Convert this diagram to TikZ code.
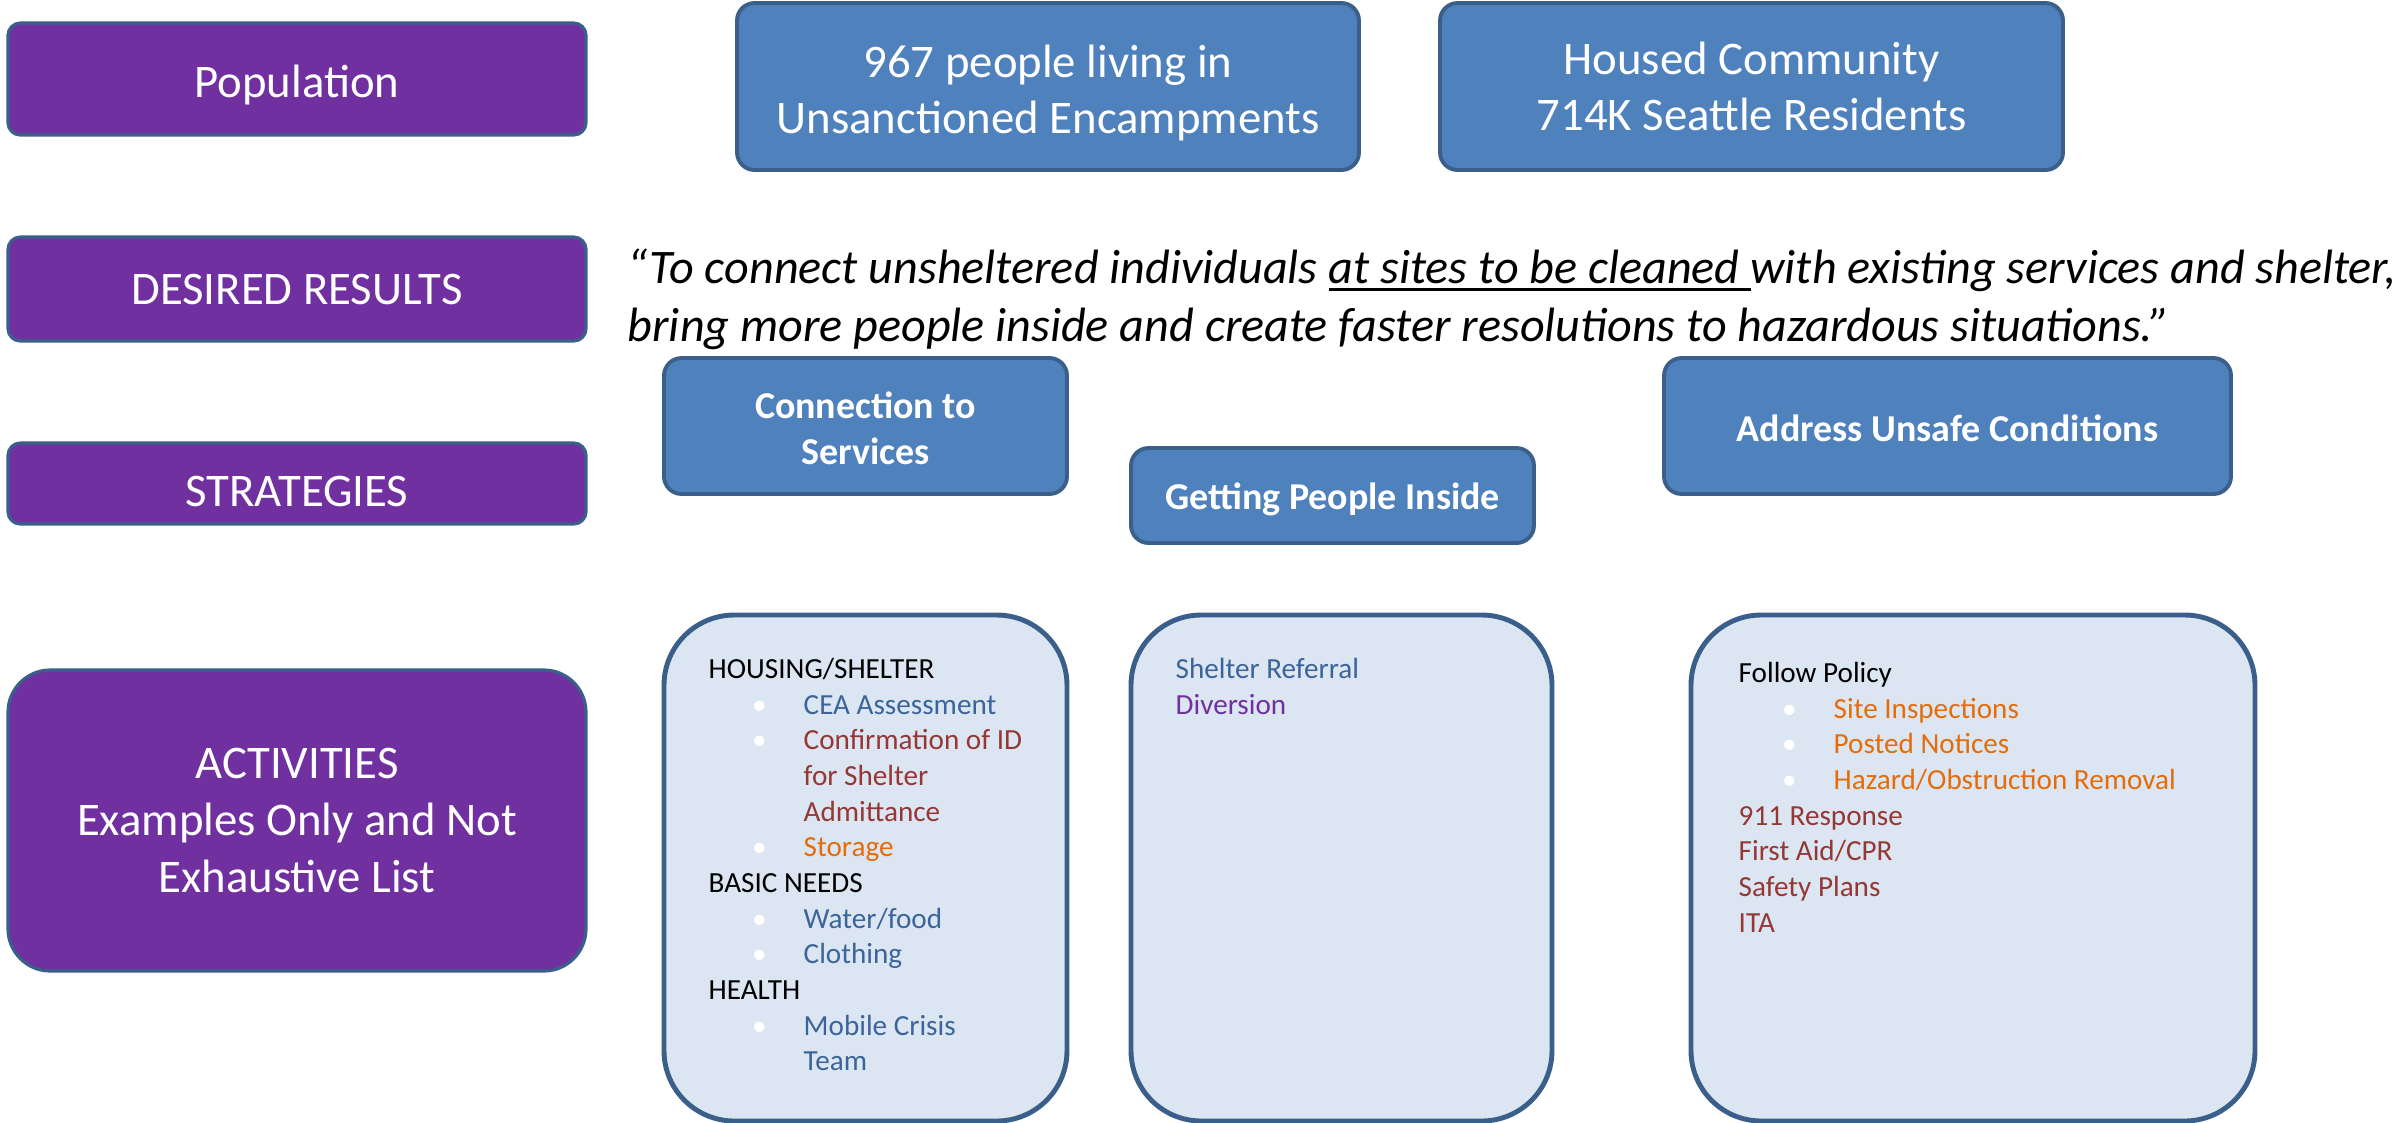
\documentclass[tikz,border=0pt]{standalone}
\usepackage{fontspec}
\setmainfont{Carlito}
\usepackage{tikz}
\definecolor{headpurple}{HTML}{7030A0}
\definecolor{boxblue}{HTML}{4F81BD}
\definecolor{edgeblue}{HTML}{3A5F8B}
\definecolor{listfill}{HTML}{DCE6F2}
\definecolor{itemblue}{HTML}{3B659A}
\definecolor{itemred}{HTML}{953735}
\definecolor{itemorange}{HTML}{E46C0A}
\newcommand{\ListItem}[3][0.95]{\hspace*{#1cm}\makebox[0pt][r]{\textcolor{white}{\textbullet}\hspace{0.37cm}}\textcolor{#2}{#3}}
\newcommand{\ListMore}[3][0.95]{\hspace*{#1cm}\textcolor{#2}{#3}}
\newcommand{\Lower}[2]{\raisebox{-#1}[\height][\depth]{\begin{tabular}{@{}c@{}}#2\end{tabular}}}
\newcommand{\ThickUnder}[1]{\setbox0\hbox{#1}\rlap{\rule[-2.3pt]{\wd0}{0.9pt}}\box0}
\tikzset{
    rowlabel/.style = {draw = edgeblue, line width = 0.9pt, fill = headpurple, text = white, rounded corners = 3.5pt, minimum width = 5.78cm, align = center, inner sep = 0pt, font = \fontsize{13.3}{16.1}\selectfont},
    groupbox/.style = {draw = edgeblue, line width = 1.1pt, fill = boxblue, text = white, rounded corners = 5pt, align = center, inner sep = 0pt, font = \fontsize{13.3}{16.1}\selectfont},
    strategybox/.style = {groupbox, font = \bfseries\fontsize{10.8}{13.1}\selectfont},
    listbox/.style = {draw = edgeblue, line width = 1.4pt, fill = listfill, rounded corners = 20pt, inner sep = 0pt},
    listtext/.style = {align = left, anchor = north west, inner sep = 0pt, font = \fontsize{8.3}{10.15}\selectfont}
}

\begin{document}
\begin{tikzpicture}
    \useasboundingbox (0, 0) rectangle (23.98, -11.22);

    % draw row labels
    \node[rowlabel, minimum height = 1.12cm] (pop) at (2.97, -0.79) {\Lower{0.075cm}{Population}};
    \node[rowlabel, minimum height = 1.04cm] (res) at (2.97, -2.89) {DESIRED RESULTS};
    \node[rowlabel, minimum height = 0.81cm] (strat) at (2.97, -4.835) {\Lower{0.12cm}{STRATEGIES}};
    \node[rowlabel, minimum height = 3.01cm, rounded corners = 12pt] (act) at (2.97, -8.205) {ACTIVITIES\\Examples Only and Not\\Exhaustive List};


    % draw population boxes
    \node[groupbox, minimum width = 6.22cm, minimum height = 1.67cm] (camp) at (10.48, -0.865) {\Lower{0.075cm}{967 people living in\\Unsanctioned Encampments}};
    \node[groupbox, minimum width = 6.23cm, minimum height = 1.67cm] (housed) at (17.515, -0.865) {Housed Community\\714K Seattle Residents};


    % draw desired results quote
    \node[anchor = west, inner sep = 0pt, align = left, font = \itshape\fontsize{13.7}{16.6}\selectfont] (quote) at (6.27, -2.99)
        {“To connect unsheltered individuals \ThickUnder{at sites to be cleaned }with existing services and shelter,\\bring more people inside and create faster resolutions to hazardous situations.”};


    % draw strategies
    \node[strategybox, minimum width = 4.03cm, minimum height = 1.36cm] (conn) at (8.655, -4.26) {\Lower{0.06cm}{Connection to\\Services}};
    \node[strategybox, minimum width = 4.03cm, minimum height = 0.95cm] (inside) at (13.325, -4.955) {\Lower{0.045cm}{Getting People Inside}};
    \node[strategybox, minimum width = 5.67cm, minimum height = 1.36cm] (unsafe) at (19.475, -4.26) {\Lower{0.06cm}{Address Unsafe Conditions}};


    % draw activity boxes
    \node[listbox, minimum width = 4.03cm, minimum height = 5.06cm] (connlist) at (8.655, -8.68) {};
    \node[listbox, minimum width = 4.21cm, minimum height = 5.06cm] (insidelist) at (13.415, -8.68) {};
    \node[listbox, minimum width = 5.64cm, minimum height = 5.06cm] (unsafelist) at (19.73, -8.68) {};

    \node[listtext] (conntext) at (7.08, -6.575) {HOUSING/SHELTER\\
        \ListItem{itemblue}{CEA Assessment}\\
        \ListItem{itemred}{Confirmation of ID}\\
        \ListMore{itemred}{for Shelter}\\
        \ListMore{itemred}{Admittance}\\
        \ListItem{itemorange}{Storage}\\
        BASIC NEEDS\\
        \ListItem{itemblue}{Water/food}\\
        \ListItem{itemblue}{Clothing}\\
        HEALTH\\
        \ListItem{itemblue}{Mobile Crisis}\\
        \ListMore{itemblue}{Team}};

    \node[listtext] (insidetext) at (11.75, -6.575) {\textcolor{itemblue}{Shelter Referral}\\
        \textcolor{headpurple}{Diversion}};

    \node[listtext] (unsafetext) at (17.38, -6.615) {Follow Policy\\
        \ListItem{itemorange}{Site Inspections}\\
        \ListItem{itemorange}{Posted Notices}\\
        \ListItem{itemorange}{Hazard/Obstruction Removal}\\
        \textcolor{itemred}{911 Response}\\
        \textcolor{itemred}{First Aid/CPR}\\
        \textcolor{itemred}{Safety Plans}\\
        \textcolor{itemred}{ITA}};

\end{tikzpicture}
\end{document}
